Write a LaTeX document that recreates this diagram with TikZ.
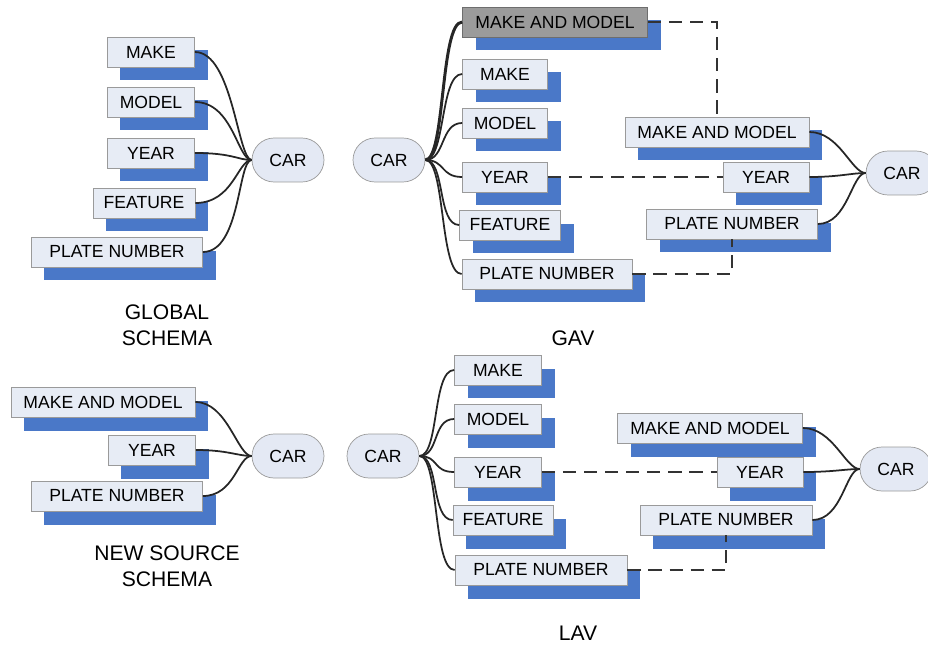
\documentclass[tikz,border=0pt]{standalone}
\usepackage{fontspec}
\setmainfont{Liberation Sans}
\usetikzlibrary{shadows}

\definecolor{boxfill}{HTML}{E7ECF5}
\definecolor{boxline}{HTML}{9A9A9A}
\definecolor{shadowblue}{HTML}{4A78C8}
\definecolor{carfill}{HTML}{E4E9F4}
\definecolor{keyfill}{HTML}{9B9B9B}
\definecolor{keyline}{HTML}{6E6E6E}

\begin{document}
\begin{tikzpicture}[x=0.02cm, y=-0.02cm,
  field/.style={draw=boxline, fill=boxfill, thin, minimum height=0.6cm, inner sep=0pt,
    font=\fontsize{10}{12}\selectfont,
    drop shadow={shadow xshift=0.26cm, shadow yshift=-0.27cm, fill=shadowblue, opacity=1}},
  keyfield/.style={field, draw=keyline, fill=keyfill},
  wd/.style={minimum width=#1*0.02cm},
  entity/.style={draw=boxline, fill=carfill, thin, rounded corners=0.44cm,
    minimum width=1.44cm, minimum height=0.88cm, inner sep=0pt,
    font=\fontsize{10}{12}\selectfont},
  link/.style={draw=black!85, line width=1pt},
  maplink/.style={draw=black!80, line width=1pt, dash pattern=on 7.5pt off 4.5pt},
  caption/.style={align=center, font=\fontsize{12}{14.7}\selectfont}]

  \useasboundingbox (0,0) rectangle (928,645);

  % ---------- Global schema (top left) ----------
  \node[field, wd=87]  (g-make)    at (151,52)  {MAKE};
  \node[field, wd=87]  (g-model)   at (151,102) {MODEL};
  \node[field, wd=87]  (g-year)    at (151,153) {YEAR};
  \node[field, wd=102] (g-feature) at (144,203) {FEATURE};
  \node[field, wd=171] (g-plate)   at (117,252) {PLATE NUMBER};
  \node[entity] (g-car) at (288,160) {CAR};

  \foreach \f in {g-make,g-model,g-year,g-feature,g-plate}
    \draw[link] (\f.east) .. controls +(38,0) and +(-14,0) .. (g-car.west);

  \node[caption] (g-title) at (167,325) {GLOBAL\\SCHEMA};

  % ---------- GAV (top right) ----------
  \node[entity] (gav-car) at (389,160) {CAR};
  \node[keyfield, wd=185] (gav-mm)      at (555,22)  {MAKE AND MODEL};
  \node[field, wd=85]     (gav-make)    at (505,74)  {MAKE};
  \node[field, wd=85]     (gav-model)   at (505,123) {MODEL};
  \node[field, wd=85]     (gav-year)    at (505,177) {YEAR};
  \node[field, wd=101]    (gav-feature) at (510,225) {FEATURE};
  \node[field, wd=170]    (gav-plate)   at (547,274) {PLATE NUMBER};

  \draw[link, line width=1.7pt] (gav-car.east) .. controls +(20,0) and +(-22,0) .. (gav-mm.west);
  \foreach \f in {gav-make,gav-model,gav-year,gav-feature,gav-plate}
    \draw[link] (gav-car.east) .. controls +(20,0) and +(-22,0) .. (\f.west);

  \node[field, wd=184] (gav-mm2)    at (717,132) {MAKE AND MODEL};
  \node[field, wd=86]  (gav-year2)  at (766,177) {YEAR};
  \node[field, wd=171] (gav-plate2) at (732,224) {PLATE NUMBER};
  \node[entity] (gav-car2) at (902,173) {CAR};

  \foreach \f in {gav-mm2,gav-year2,gav-plate2}
    \draw[link] (\f.east) .. controls +(30,0) and +(-14,0) .. (gav-car2.west);

  % mappings between the two schemas
  \draw[maplink] (gav-mm.east) -| (gav-mm2.north);
  \draw[maplink] (gav-year.east) -- (gav-year2.west);
  \draw[maplink] (gav-plate.east) -| (gav-plate2.south);

  \node[caption] (gav-title) at (573,338) {GAV};

  % ---------- New source schema (bottom left) ----------
  \node[field, wd=184] (n-mm)    at (103,402) {MAKE AND MODEL};
  \node[field, wd=87]  (n-year)  at (152,450) {YEAR};
  \node[field, wd=171] (n-plate) at (117,496) {PLATE NUMBER};
  \node[entity] (n-car) at (288,456) {CAR};

  \foreach \f in {n-mm,n-year,n-plate}
    \draw[link] (\f.east) .. controls +(32,0) and +(-14,0) .. (n-car.west);

  \node[caption] (n-title) at (167,566) {NEW SOURCE\\SCHEMA};

  % ---------- LAV (bottom right) ----------
  \node[entity] (l-car) at (383,456) {CAR};
  \node[field, wd=87]  (l-make)    at (498,370) {MAKE};
  \node[field, wd=87]  (l-model)   at (498,419) {MODEL};
  \node[field, wd=87]  (l-year)    at (498,472) {YEAR};
  \node[field, wd=100] (l-feature) at (503,520) {FEATURE};
  \node[field, wd=172] (l-plate)   at (541,570) {PLATE NUMBER};

  \foreach \f in {l-make,l-model,l-year,l-feature,l-plate}
    \draw[link] (l-car.east) .. controls +(20,0) and +(-22,0) .. (\f.west);

  \node[field, wd=185] (l-mm2)    at (710,428) {MAKE AND MODEL};
  \node[field, wd=86]  (l-year2)  at (760,472) {YEAR};
  \node[field, wd=172] (l-plate2) at (726,520) {PLATE NUMBER};
  \node[entity] (l-car2) at (896,469) {CAR};

  \foreach \f in {l-mm2,l-year2,l-plate2}
    \draw[link] (\f.east) .. controls +(30,0) and +(-14,0) .. (l-car2.west);

  \draw[maplink] (l-year.east) -- (l-year2.west);
  \draw[maplink] (l-plate.east) -| (l-plate2.south);

  \node[caption] (l-title) at (578,633) {LAV};

\end{tikzpicture}
\end{document}
